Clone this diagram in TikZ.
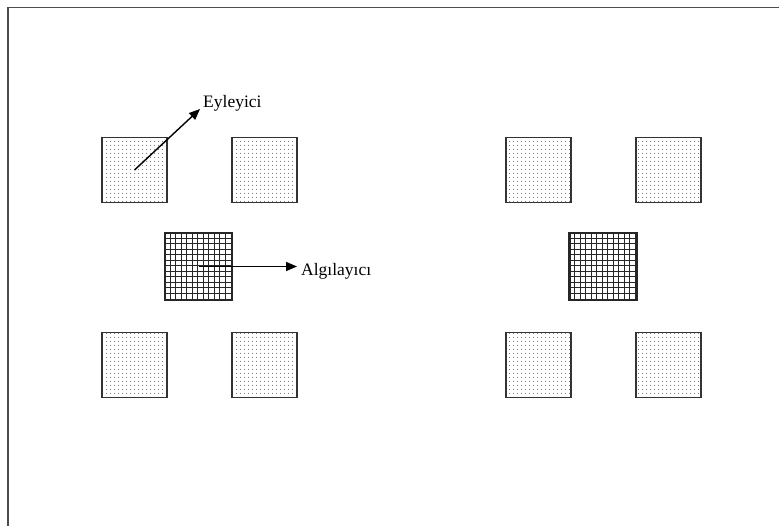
\documentclass[tikz,border=0pt]{standalone}
\usepackage{fontspec}
\setmainfont{Liberation Serif}
\usetikzlibrary{arrows.meta,patterns,calc}
% sparse dot fill for the actuator pads
\pgfdeclarepatternformonly{paddots}{\pgfpointorigin}{\pgfpoint{3.5pt}{3.5pt}}{\pgfpoint{3.5pt}{3.5pt}}{%
  \pgfpathcircle{\pgfpoint{1.75pt}{1.75pt}}{0.6pt}\pgfusepath{fill}}
\begin{document}
\begin{tikzpicture}[x=1pt,y=-1pt,
  pad/.style={draw=black!80,line width=1.8pt,minimum size=65pt,inner sep=0pt,
    pattern=paddots,pattern color=black!55},
  sensor/.style={draw=black!85,line width=1.8pt,minimum size=66pt,inner sep=0pt,fill=white},
  gridline/.style={black!85,line width=0.7pt},
  pointer/.style={line width=1.4pt,-{Triangle[length=11pt,width=9pt]}},
  lbl/.style={inner sep=0pt,font=\fontsize{17.5}{20}\selectfont},
  frame/.style={draw=black!70,line width=1.8pt}]
\clip (0,0) rectangle (779,525);
\useasboundingbox (0,0) rectangle (779,525);
\fill[white] (0,0) rectangle (779,525);
\draw[frame] (8,7.5) rectangle (800,540);

% left layout
\node[pad] (a1) at (134.5,170) {};
\node[pad] (a2) at (264.5,170) {};
\node[sensor] (s1) at (198.5,266.5) {};
\node[pad] (a3) at (134.5,365) {};
\node[pad] (a4) at (264.5,365) {};

% right layout
\node[pad] (b1) at (538.5,170) {};
\node[pad] (b2) at (668.5,170) {};
\node[sensor] (s2) at (603,266.5) {};
\node[pad] (b3) at (538.5,365) {};
\node[pad] (b4) at (668.5,365) {};

% grid pattern of the sensor squares
\foreach \s in {s1,s2}{
  \foreach \i in {1,...,11}{
    \draw[gridline] ($(\s.north west)+(\i*5.5,0)$) -- ($(\s.south west)+(\i*5.5,0)$);
    \draw[gridline] ($(\s.north west)+(0,\i*5.5)$) -- ($(\s.north east)+(0,\i*5.5)$);
  }
  \draw[draw=black!85,line width=1.8pt] (\s.north west) rectangle (\s.south east);
}

% labels and pointers
\node[lbl,anchor=base west] (eyl) at (203,107) {Eyleyici};
\node[lbl,anchor=base west] (alg) at (301,275) {Algılayıcı};
\coordinate (eyltip) at ($(eyl.base west)+(-3,2)$);
\coordinate (algtip) at ($(alg.base west)+(-4,-7)$);
\draw[pointer] (a1.center) -- (eyltip);
\draw[pointer] (s1.center) -- (s1.center -| algtip);
\end{tikzpicture}
\end{document}
